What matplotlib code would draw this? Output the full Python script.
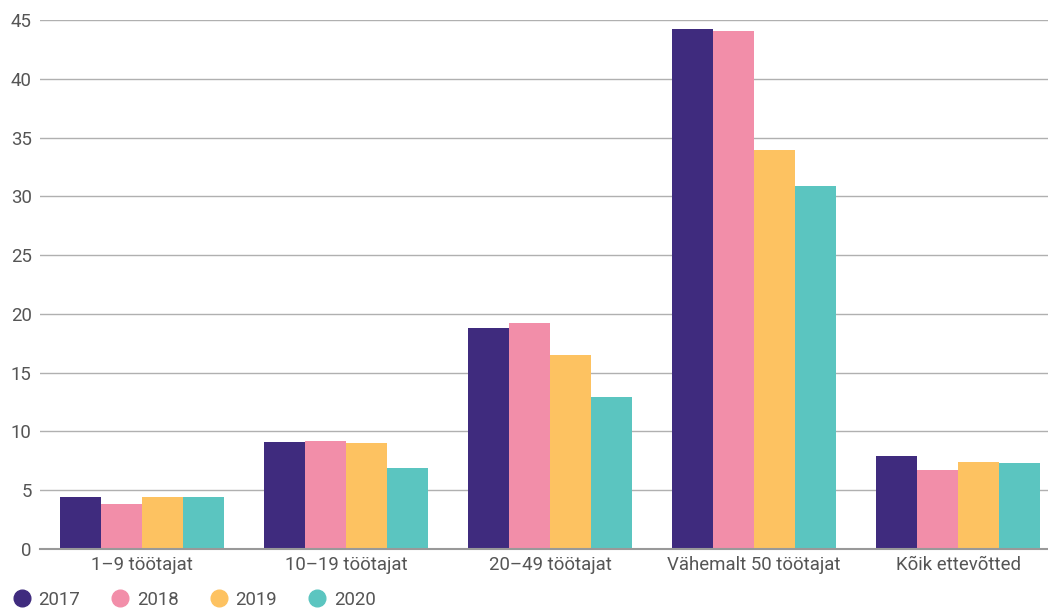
import matplotlib.pyplot as plt
from matplotlib.lines import Line2D
import numpy as np

plt.rcParams['font.family'] = ['Roboto', 'DejaVu Sans']

categories = ['1–9 töötajat', '10–19 töötajat', '20–49 töötajat',
              'Vähemalt 50 töötajat', 'Kõik ettevõtted']
years = ['2017', '2018', '2019', '2020']
v2017 = [4.4, 9.1, 18.8, 44.2, 7.9]
v2018 = [3.8, 9.2, 19.2, 44.1, 6.7]
v2019 = [4.4, 9.0, 16.5, 33.9, 7.4]
v2020 = [4.4, 6.9, 12.9, 30.9, 7.3]
colors = ['#3f2b7e', '#f28ea9', '#fdc261', '#5bc5c0']

series = [v2017, v2018, v2019, v2020]

fig = plt.figure(figsize=(10.48, 6.14), dpi=100)
ax = fig.add_axes([40 / 1048, 65 / 614, 1020 / 1048, 529 / 614])

x = np.arange(len(categories))
w = 0.2
for i, vals in enumerate(series):
    ax.bar(x + (i - 1.5) * w, vals, width=w, color=colors[i], zorder=3)

ax.set_xlim(-0.5, 4.5)
ax.set_ylim(0, 45)
ax.set_yticks(range(0, 50, 5))
ax.set_xticks(x)
ax.set_xticklabels(categories)
ax.grid(axis='y', color='#b0b0b0', linewidth=1, zorder=0)
for s in ['top', 'right', 'left']:
    ax.spines[s].set_visible(False)
ax.spines['bottom'].set_color('#999999')
ax.spines['bottom'].set_linewidth(1.5)
ax.spines['bottom'].set_zorder(4)
ax.tick_params(axis='both', length=0, labelsize=13.4, colors='#555555', pad=6)
ax.tick_params(axis='x', pad=5)

handles = [Line2D([], [], marker='o', linestyle='none', markersize=12,
                  markerfacecolor=c, markeredgecolor=c) for c in colors]
fig.legend(handles, years, loc='lower left', bbox_to_anchor=(0.003, -0.004),
           ncol=4, frameon=False, fontsize=13.4, labelcolor='#555555',
           handletextpad=0.3, columnspacing=1.55, handlelength=1.2,
           borderaxespad=0)

fig.savefig('out.png', dpi=100)
